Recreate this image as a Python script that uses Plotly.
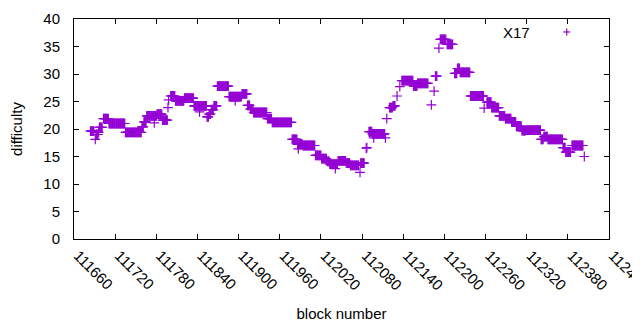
import numpy as np
import plotly.graph_objects as go

# Runs of consecutive blocks sharing the same difficulty
run_start = [111684, 111692, 111697, 111703, 111711, 111735, 111759, 111762, 111766, 111781,
             111789, 111801, 111808, 111821, 111835, 111854, 111857, 111860, 111864, 111869,
             111886, 111905, 111913, 111917, 111922, 111942, 111949, 111978, 111986, 111994,
             112012, 112021, 112029, 112033, 112045, 112057, 112063, 112078, 112090, 112095,
             112120, 112125, 112138, 112155, 112161, 112187, 112194, 112204, 112215, 112219,
             112223, 112238, 112262, 112269, 112280, 112289, 112298, 112305, 112313, 112319,
             112341, 112345, 112351, 112373, 112377, 112386]
run_end = [111689, 111695, 111701, 111710, 111734, 111758, 111761, 111765, 111780, 111788,
           111796, 111807, 111820, 111834, 111853, 111856, 111859, 111863, 111868, 111885,
           111904, 111912, 111916, 111921, 111941, 111948, 111977, 111985, 111993, 112011,
           112020, 112028, 112032, 112044, 112056, 112062, 112075, 112083, 112094, 112113,
           112124, 112128, 112154, 112160, 112176, 112189, 112202, 112212, 112218, 112222,
           112237, 112257, 112268, 112279, 112288, 112297, 112304, 112312, 112318, 112340,
           112344, 112350, 112372, 112376, 112384, 112402]
run_value = [19.6, 19.0, 20.3, 21.9, 21.0, 19.4, 20.4, 21.3, 22.4, 22.7,
             21.6, 26.0, 25.1, 25.6, 24.2, 22.2, 22.7, 23.5, 24.2, 27.8,
             25.9, 26.4, 24.3, 23.6, 23.0, 21.9, 21.2, 18.1, 17.2, 17.0,
             15.2, 14.6, 14.1, 13.6, 14.2, 13.8, 13.4, 13.8, 19.5, 19.1,
             23.9, 24.2, 28.8, 27.8, 28.3, 29.6, 36.3, 35.4, 30.1, 31.0,
             30.3, 26.0, 24.9, 23.9, 22.4, 21.9, 21.3, 20.5, 19.7, 19.8,
             18.1, 18.6, 18.1, 16.6, 15.8, 17.0]

# Isolated blocks (outliers)
single_block = [111691, 111696, 111777, 111797, 111798, 111843, 111895, 111987, 112041, 112077,
                112086, 112087, 112097, 112114, 112116, 112131, 112135, 112181, 112185, 112192,
                112258, 112404]
single_value = [18.1, 19.4, 21.1, 23.9, 25.3, 23.1, 25.1, 16.4, 12.8, 12.1,
                16.5, 16.6, 18.4, 18.4, 21.9, 26.0, 27.7, 24.4, 26.9, 34.7,
                23.8, 15.0]

x_ticks = list(range(111660, 112441, 60))
y_ticks = list(range(0, 41, 5))

blocks = []
values = []
for s, e, v in zip(run_start, run_end, run_value):
    for b in range(s, e + 1):
        blocks.append(b)
        values.append(v)
blocks += single_block
values += single_value

color = "#9400D3"
font = dict(family="Liberation Sans, Arial, sans-serif", size=15, color="black")

fig = go.Figure()
fig.add_trace(go.Scatter(
    x=blocks, y=values, mode="markers", name="X17",
    marker=dict(symbol="cross-thin", size=7, color=color,
                line=dict(color=color, width=1.2)),
    showlegend=False,
))

# Legend-like key (gnuplot style: text, then sample)
fig.add_annotation(x=0.857, y=0.94, xref="paper", yref="paper", text="X17",
                   showarrow=False, xanchor="right", yanchor="middle", font=font)
lx, ly = 0.921, 0.941
dx, dy = 3.5 / 535, 3.5 / 220
fig.add_shape(type="line", xref="paper", yref="paper", x0=lx - dx, x1=lx + dx, y0=ly, y1=ly,
              line=dict(color=color, width=1.2))
fig.add_shape(type="line", xref="paper", yref="paper", x0=lx, x1=lx, y0=ly - dy, y1=ly + dy,
              line=dict(color=color, width=1.2))

axis_common = dict(showline=True, linecolor="black", linewidth=1, mirror="ticks",
                   ticks="inside", ticklen=5, tickcolor="black", tickwidth=1,
                   showgrid=False, zeroline=False, tickfont=font)

fig.update_xaxes(range=[111660, 112440], tickvals=x_ticks, ticktext=[str(t) for t in x_ticks],
                 tickangle=45, ticklabelstandoff=1, ticklabelshift=4, ticklabeloverflow="allow",
                 title=dict(text="block number", font=font, standoff=15), **axis_common)
fig.update_yaxes(range=[0, 40], tickvals=y_ticks, ticktext=[str(t) for t in y_ticks],
                 ticklabelstandoff=10,
                 title=dict(text="difficulty", font=font, standoff=20), **axis_common)

# page body has an 8px margin, so the figure is sized/placed to compensate
fig.update_layout(width=632, height=322,
                  margin=dict(l=66, r=31, t=11, b=91, autoexpand=False),
                  plot_bgcolor="white", paper_bgcolor="white", font=font)

fig.write_html("out.html")
